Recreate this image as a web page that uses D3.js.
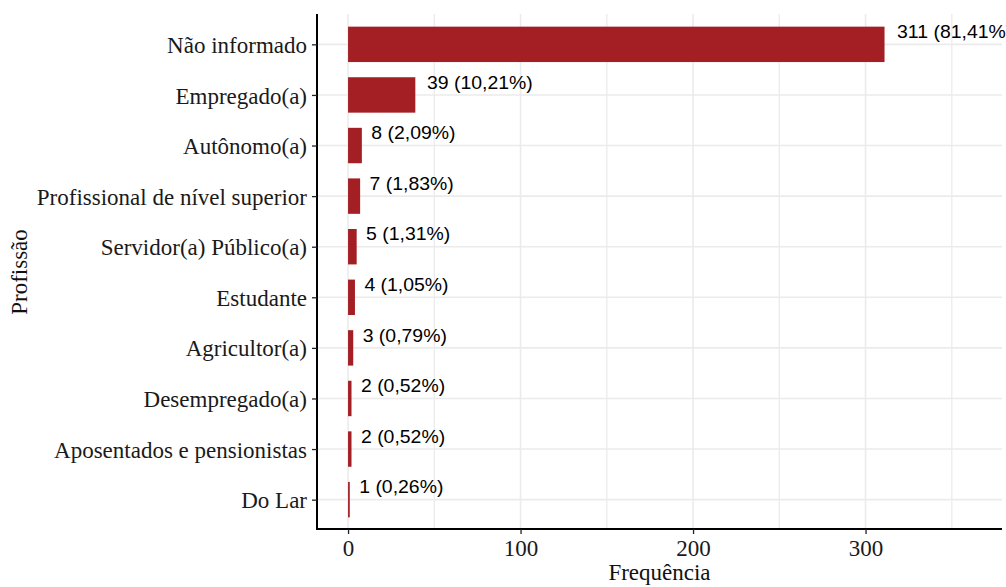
<!DOCTYPE html>
<html>
<head>
<meta charset="utf-8">
<script src="https://cdn.jsdelivr.net/npm/d3@7"></script>
<style>
  html, body { margin: 0; padding: 0; background: #fff; }
  svg { display: block; }
</style>
</head>
<body>
<svg id="chart" width="1006" height="587"></svg>
<script>
const categories = ["Não informado", "Empregado(a)", "Autônomo(a)", "Profissional de nível superior",
  "Servidor(a) Público(a)", "Estudante", "Agricultor(a)", "Desempregado(a)",
  "Aposentados e pensionistas", "Do Lar"];
const counts = [311, 39, 8, 7, 5, 4, 3, 2, 2, 1];
const percents = ["81,41%", "10,21%", "2,09%", "1,83%", "1,31%", "1,05%", "0,79%", "0,52%", "0,52%", "0,26%"];
const xTicks = [0, 100, 200, 300];
const xMinorTicks = [50, 150, 250, 350];

const svg = d3.select("#chart");
const panel = { left: 317, right: 1002, top: 14, bottom: 530 };

const x = d3.scaleLinear().domain([-18.0, 379.1]).range([panel.left, panel.right]);
const n = categories.length;
const yIdx = d3.scaleLinear().domain([-0.6, n - 1 + 0.6]).range([panel.top, panel.bottom]);
const y = c => yIdx(categories.indexOf(c));
const barH = (yIdx(1) - yIdx(0)) * 0.7;

const grid = "#EBEBEB";
svg.append("g").selectAll("line").data(xMinorTicks).join("line")
  .attr("x1", d => x(d)).attr("x2", d => x(d))
  .attr("y1", panel.top).attr("y2", panel.bottom)
  .attr("stroke", grid).attr("stroke-width", 1.3);
svg.append("g").selectAll("line").data(xTicks).join("line")
  .attr("x1", d => x(d)).attr("x2", d => x(d))
  .attr("y1", panel.top).attr("y2", panel.bottom)
  .attr("stroke", grid).attr("stroke-width", 1.6);
svg.append("g").selectAll("line").data(categories).join("line")
  .attr("x1", panel.left).attr("x2", panel.right)
  .attr("y1", d => y(d)).attr("y2", d => y(d))
  .attr("stroke", grid).attr("stroke-width", 1.6);

svg.append("g").selectAll("rect").data(categories).join("rect")
  .attr("x", x(0))
  .attr("y", d => y(d) - barH / 2)
  .attr("width", (d, i) => x(counts[i]) - x(0))
  .attr("height", barH)
  .attr("fill", "#A31F24");

const SX = 1.08;
const lab = svg.append("g").selectAll("text").data(categories).join("text")
  .attr("font-family", "'Liberation Sans', Arial, sans-serif")
  .attr("font-size", 18)
  .attr("fill", "#000")
  .text((d, i) => `${counts[i]} (${percents[i]})`);
lab.each(function(d, i) {
  const w = this.getComputedTextLength() * SX;
  const x0 = x(counts[i]) + 0.1 * w + 1;
  const yb = y(d) - 6.3;
  d3.select(this).attr("transform", `translate(${x0},${yb}) scale(${SX},1)`);
});

const serif = "'Liberation Serif', 'Times New Roman', serif";
const FS = 23;
const xAxis = d3.axisBottom(x).tickValues(xTicks).tickSize(5).tickPadding(6);
const gx = svg.append("g").attr("transform", `translate(0,${panel.bottom - 1})`).call(xAxis);
gx.select(".domain").attr("d", `M${panel.left - 1},0H${panel.right}`).attr("stroke", "#000").attr("stroke-width", 2);
gx.selectAll(".tick line").attr("stroke", "#222").attr("stroke-width", 1.3);
gx.selectAll(".tick text").attr("font-family", serif).attr("font-size", FS).attr("fill", "#1a1a1a")
  .attr("dy", "0.7em");

const yAxis = d3.axisLeft(yIdx).tickValues(d3.range(n)).tickFormat(i => categories[i]).tickSize(5).tickPadding(5);
const gy = svg.append("g").attr("transform", `translate(${panel.left},0)`).call(yAxis);
gy.select(".domain").attr("d", `M0,${panel.top}V${panel.bottom}`).attr("stroke", "#000").attr("stroke-width", 2);
gy.selectAll(".tick line").attr("stroke", "#222").attr("stroke-width", 1.3);
gy.selectAll(".tick text").attr("font-family", serif).attr("font-size", FS).attr("fill", "#1a1a1a")
  .attr("dy", "0.35em");

svg.append("text")
  .attr("x", (panel.left + panel.right) / 2).attr("y", 580)
  .attr("text-anchor", "middle")
  .attr("font-family", serif).attr("font-size", FS).attr("fill", "#111")
  .text("Frequência");
svg.append("text")
  .attr("transform", `translate(27,${(panel.top + panel.bottom) / 2}) rotate(-90)`)
  .attr("text-anchor", "middle")
  .attr("font-family", serif).attr("font-size", FS).attr("fill", "#111")
  .text("Profissão");
</script>
</body>
</html>
